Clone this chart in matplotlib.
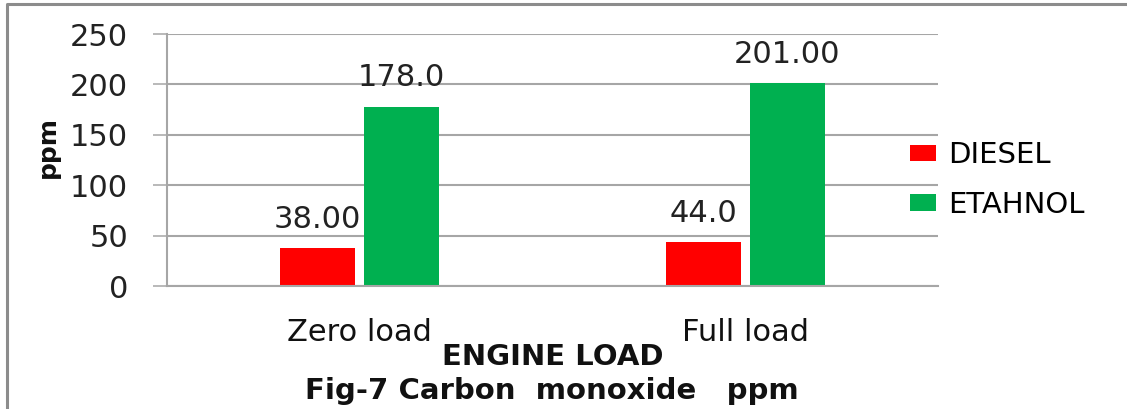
import matplotlib
matplotlib.use("Agg")
import matplotlib.pyplot as plt
import numpy as np
from matplotlib.lines import Line2D

categories = ["Zero load", "Full load"]
diesel = [38.0, 44.0]
ethanol = [178.0, 201.0]
diesel_labels = ["38.00", "44.0"]
ethanol_labels = ["178.0", "201.00"]
y_ticks = [0, 50, 100, 150, 200, 250]

W, H = 1127, 409
fig = plt.figure(figsize=(W / 100, H / 100), dpi=100)
ax = fig.add_axes([167 / W, 1 - 286 / H, (938 - 167) / W, (286 - 34) / H])

grid_c = "#a6a6a6"
x = np.arange(len(categories))
bw = 0.195
off = 0.109
b1 = ax.bar(x - off, diesel, bw, color="#ff0000", label="DIESEL")
b2 = ax.bar(x + off, ethanol, bw, color="#00b050", label="ETAHNOL")

for bars, labs in ((b1, diesel_labels), (b2, ethanol_labels)):
    for r, t in zip(bars, labs):
        ax.annotate(t, (r.get_x() + r.get_width() / 2, r.get_height()),
                    xytext=(0, 14.5), textcoords="offset points",
                    ha="center", va="baseline", fontsize=22, color="#222222")

ax.set_xlim(-0.5, 1.5)
ax.set_ylim(0, 250)
ax.set_yticks(y_ticks)
ax.set_xticks(x)
ax.set_xticklabels(categories)
ax.yaxis.grid(True, color=grid_c, linewidth=1.5)
ax.set_axisbelow(True)
for s in ("top", "right"):
    ax.spines[s].set_visible(False)
for s in ("left", "bottom"):
    ax.spines[s].set_color(grid_c)
    ax.spines[s].set_linewidth(1.5)
ax.tick_params(axis="y", length=10, width=1.1, color=grid_c, pad=18,
               labelsize=22, labelcolor="#222222")
ax.tick_params(axis="x", length=0, pad=23, labelsize=22, labelcolor="#111111")

fig.text(48 / W, 1 - 147 / H, "ppm", rotation=90, ha="center", va="center",
         fontsize=18, fontweight="bold", color="#111111")
fig.text(553 / W, 1 - 365 / H, "ENGINE LOAD", ha="center", va="baseline",
         fontsize=21, fontweight="bold", color="#111111")
fig.text(552 / W, 1 - 399 / H, "Fig-7 Carbon  monoxide   ppm", ha="center",
         va="baseline", fontsize=21, fontweight="bold", color="#111111")

fig.legend(handles=[b1, b2], loc="upper left",
           bbox_to_anchor=(910 / W, 1 - 141 / H), frameon=False,
           fontsize=21, handlelength=0.89, handleheight=0.48,
           handletextpad=0.41, labelspacing=0.75, borderpad=0,
           borderaxespad=0)

# outer frame (top and left edges visible)
fig.add_artist(Line2D([7 / W, 7 / W, 1.0], [0.0, 1 - 4 / H, 1 - 4 / H],
                      transform=fig.transFigure, color="#8c8c8c", linewidth=2.2))

fig.savefig("out.png", dpi=100)
